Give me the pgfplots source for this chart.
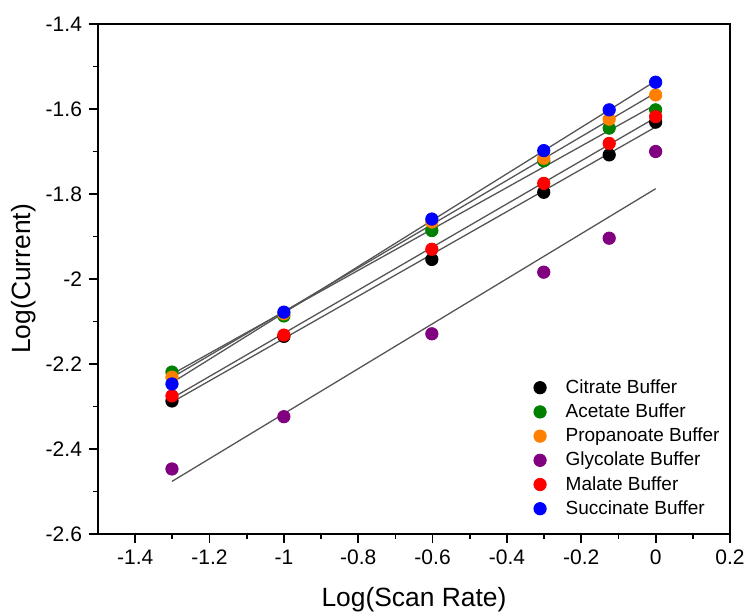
\documentclass[border=0pt]{standalone}
\usepackage{fontspec}
\setmainfont{Liberation Sans}
\usepackage{pgfplots}
\usepackage{pgfplotstable}
\pgfplotsset{compat=1.18}

% log(current) against log(scan rate) for each buffer
\pgfplotstableread{
x       cit     ace     pro     gly     mal     suc
-1.301  -2.287  -2.219  -2.231  -2.447  -2.275  -2.247
-1.000  -2.135  -2.087  -2.082  -2.324  -2.132  -2.078
-0.602  -1.954  -1.886  -1.866  -2.129  -1.930  -1.859
-0.301  -1.796  -1.722  -1.716  -1.984  -1.775  -1.698
-0.125  -1.708  -1.645  -1.624  -1.904  -1.681  -1.602
 0.000  -1.631  -1.602  -1.567  -1.700  -1.618  -1.537
}\datatable

\definecolor{cgreen}{RGB}{0,128,0}
\definecolor{corange}{RGB}{255,128,0}
\definecolor{cpurple}{RGB}{128,0,128}
\definecolor{cred}{RGB}{255,0,0}
\definecolor{cblue}{RGB}{0,0,255}
\definecolor{fitgray}{RGB}{85,85,85}

\begin{document}
\begin{tikzpicture}
\begin{axis}[
  scale only axis,
  width=316pt, height=255pt,
  xmin=-1.5, xmax=0.2, ymin=-2.6, ymax=-1.4,
  xtick={-1.4,-1.2,-1,-0.8,-0.6,-0.4,-0.2,0,0.2},
  ytick={-2.6,-2.4,-2.2,-2,-1.8,-1.6,-1.4},
  minor x tick num=1, minor y tick num=1,
  tick align=outside, tick pos=left,
  major tick length=4.5pt, minor tick length=2.5pt,
  axis line style={line width=0.9pt},
  every tick/.style={line width=0.9pt, black},
  /pgf/number format/assume math mode=true,
  ticklabel style={font=\fontsize{10.5}{12}\selectfont},
  xlabel={Log(Scan Rate)}, ylabel={Log(Current)},
  label style={font=\fontsize{13.2}{15}\selectfont},
  xlabel style={at={(axis description cs:0.5,-0.129)}, anchor=center},
  ylabel style={at={(axis description cs:-0.117,0.5)}, anchor=center},
  legend cell align=left,
  legend image code/.code={%
    \path[draw=none] (0pt,0pt) (17pt,0pt);
    \draw[#1] plot coordinates {(5pt,0pt)};},
  legend style={draw=none, fill=none, font=\fontsize{9.5}{11}\selectfont,
    at={(axis cs:-0.355,-2.217)}, anchor=north west, row sep=0pt,
    nodes={text height=8pt, text depth=2.5pt, inner sep=0.8pt}},
]
\addplot[only marks, mark=*, mark size=3.1pt, black] table[x=x, y=cit] {\datatable};
\addlegendentry{Citrate Buffer}
\addplot[only marks, mark=*, mark size=3.1pt, cgreen, fill=cgreen] table[x=x, y=ace] {\datatable};
\addlegendentry{Acetate Buffer}
\addplot[only marks, mark=*, mark size=3.1pt, corange, fill=corange] table[x=x, y=pro] {\datatable};
\addlegendentry{Propanoate Buffer}
\addplot[only marks, mark=*, mark size=3.1pt, cpurple, fill=cpurple] table[x=x, y=gly] {\datatable};
\addlegendentry{Glycolate Buffer}
\addplot[only marks, mark=*, mark size=3.1pt, cred, fill=cred] table[x=x, y=mal] {\datatable};
\addlegendentry{Malate Buffer}
\addplot[only marks, mark=*, mark size=3.1pt, cblue, fill=cblue] table[x=x, y=suc] {\datatable};
\addlegendentry{Succinate Buffer}

% least-squares lines through each series
\foreach \col in {cit,ace,pro,gly,mal,suc}{
  \addplot[fitgray, line width=0.65pt, no marks, forget plot]
    table[x=x, y={create col/linear regression={y=\col}}] {\datatable};
}
\end{axis}
\pgfresetboundingbox
\path (-49pt,-39.5pt) rectangle (325pt,267pt);
\end{tikzpicture}
\end{document}
